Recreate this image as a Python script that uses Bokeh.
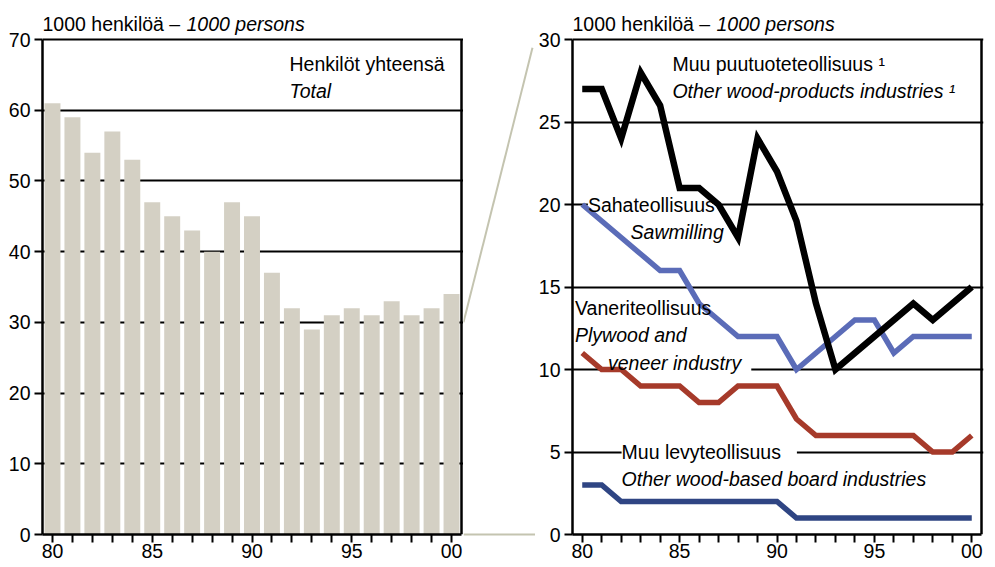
from bokeh.plotting import figure
from bokeh.models import Range1d, FixedTicker
from bokeh.layouts import row
from bokeh.embed import file_html
from bokeh.resources import INLINE
from bokeh.core.properties import value

FONT = "Liberation Sans"
FS = "19.5px"

# ---------------- data ----------------
years = list(range(1980, 2001))
total = [61, 59, 54, 57, 53, 47, 45, 43, 40, 47, 45, 37, 32, 29, 31, 32, 31, 33, 31, 32, 34]
other_wood = [27, 27, 24, 28, 26, 21, 21, 20, 18, 24, 22, 19, 14, 10, 11, 12, 13, 14, 13, 14, 15]
sawmilling = [20, 19, 18, 17, 16, 16, 14, 13, 12, 12, 12, 10, 11, 12, 13, 13, 11, 12, 12, 12, 12]
plywood = [11, 10, 10, 9, 9, 9, 8, 8, 9, 9, 9, 7, 6, 6, 6, 6, 6, 6, 5, 5, 6]
board = [3, 3, 2, 2, 2, 2, 2, 2, 2, 2, 2, 1, 1, 1, 1, 1, 1, 1, 1, 1, 1]

label_years = [1980, 1985, 1990, 1995, 2000]
label_texts = ["80", "85", "90", "95", "00"]
left_ticks = [0, 10, 20, 30, 40, 50, 60, 70]
right_ticks = [0, 5, 10, 15, 20, 25, 30]
zoom_level = 30  # left-panel level connected to the right panel

unit_fi = "1000 henkilöä – "
unit_en = "1000 persons"

BAR = "#d4d0c4"
C_OTHER = "#000000"
C_SAW = "#5b6cb8"
C_PLY = "#a63a2a"
C_BOARD = "#2f4583"
C_LINK = "#c4c4b0"

X0, X1 = 1979.5, 2000.5
PLOT_PX = 495      # pixel height of the 0..max data area
EXTRA_PX = 27      # room above the box for the unit text
EDGE_PX = 2        # room right of the box so its border is not clipped
TOP, BOTTOM = 12, 33
TEXT_UP_PX = 8.5   # baseline correction for text glyphs


def up(ymax):
    return TEXT_UP_PX * ymax / PLOT_PX


def make_panel(frame_w, ymax, yticks, border_left, border_right):
    ytop = ymax * (1 + EXTRA_PX / PLOT_PX)
    xr = X1 + EDGE_PX * (X1 - X0) / frame_w
    p = figure(title=None, frame_width=frame_w + EDGE_PX, frame_height=PLOT_PX + EXTRA_PX,
               x_range=Range1d(X0, xr), y_range=Range1d(0, ytop),
               output_backend="svg", toolbar_location=None,
               min_border_left=border_left, min_border_right=border_right,
               min_border_top=TOP, min_border_bottom=BOTTOM)
    p.background_fill_color = "white"
    p.border_fill_color = "white"
    p.outline_line_color = None
    p.xgrid.visible = False
    p.ygrid.ticker = FixedTicker(ticks=yticks)
    p.ygrid.grid_line_color = "black"
    p.ygrid.grid_line_width = 2
    for ax in (p.xaxis[0], p.yaxis[0]):
        ax.axis_line_color = "black"
        ax.axis_line_width = 2.5
        ax.major_tick_line_color = "black"
        ax.major_tick_line_width = 2
        ax.major_tick_in = 0
        ax.minor_tick_line_color = None
        ax.major_label_text_font = FONT
        ax.major_label_text_font_size = FS
        ax.major_label_text_color = "black"
    p.xaxis.ticker = FixedTicker(ticks=years)
    p.xaxis.bounds = (X0, X1)
    overrides = {y: "" for y in years}
    for y, t in zip(label_years, label_texts):
        overrides[y] = t
    p.xaxis.major_label_overrides = overrides
    p.xaxis.major_tick_out = 8
    p.xaxis.major_label_standoff = 1
    p.yaxis.ticker = FixedTicker(ticks=yticks)
    p.yaxis.bounds = (0, ymax)
    p.yaxis.major_tick_out = 8
    p.yaxis.major_label_standoff = 4
    # right border of the box
    p.segment(x0=[X1], y0=[0], x1=[X1], y1=[ymax], line_color="black", line_width=2.5)
    # unit text above the box
    yt = ymax + 7.3 * ymax / PLOT_PX + up(ymax)
    p.text(x=[X0], y=[yt], text=[unit_fi], text_font=value(FONT), text_font_size=value(FS),
           text_baseline="alphabetic", text_color="black")
    p.text(x=[X0], y=[yt], x_offset=144, text=[unit_en], text_font=value(FONT),
           text_font_size=value(FS), text_font_style="italic", text_baseline="alphabetic",
           text_color="black")
    return p


# ---------------- left panel ----------------
left = make_panel(419, 70, left_ticks, 42, 0)
left.vbar(x=years, top=total, width=0.8, fill_color=BAR, line_color=None)
left.text(x=[1991.88], y=[65.38 + up(70)], text=["Henkilöt yhteensä"], text_font=value(FONT),
          text_font_size=value(FS), text_baseline="alphabetic", text_color="black")
left.text(x=[1991.88], y=[61.48 + up(70)], text=["Total"], text_font=value(FONT),
          text_font_size=value(FS), text_font_style="italic", text_baseline="alphabetic",
          text_color="black")

# ---------------- connector ----------------
MID_W = 72
PAD = 12
RMAX = 30
mid = figure(title=None, frame_width=MID_W, frame_height=PLOT_PX + EXTRA_PX + PAD,
             x_range=Range1d(0, MID_W),
             y_range=Range1d(-PAD * RMAX / PLOT_PX, RMAX * (1 + EXTRA_PX / PLOT_PX)),
             output_backend="svg", toolbar_location=None, x_axis_type=None, y_axis_type=None,
             min_border_left=0, min_border_right=0, min_border_top=TOP,
             min_border_bottom=BOTTOM - PAD)
mid.outline_line_color = None
mid.grid.visible = False
mid.border_fill_color = "white"
mid.line(x=[0, MID_W - 3], y=[zoom_level * RMAX / 70, RMAX - 0.5], line_color=C_LINK, line_width=2)
mid.line(x=[0, MID_W], y=[0, 0], line_color=C_LINK, line_width=2)

# ---------------- right panel ----------------
right = make_panel(409, RMAX, right_ticks, 34, 6)
dy = up(RMAX)

# white boxes behind some labels (under the data lines)
bg_labels = [
    (1980.29, 19.44, "Sahateollisuus", "normal", (1, 2)),
    (1981.32, 9.90, "veneer industry", "italic", (5, 2)),
    (1982.02, 4.48, "Muu levyteollisuus", "normal", (8, 2)),
]
for bx, by, bt, bs, pad in bg_labels:
    right.text(x=[bx], y=[by + dy], text=[bt], text_font=value(FONT), text_font_size=value(FS),
               text_font_style=bs, text_baseline="alphabetic", text_alpha=0,
               background_fill_color="white", padding=pad)

right.line(years, board, line_color=C_BOARD, line_width=5.5, line_join="miter")
right.line(years, plywood, line_color=C_PLY, line_width=5.5, line_join="miter")
right.line(years, sawmilling, line_color=C_SAW, line_width=5.5, line_join="miter")
right.line(years, other_wood, line_color=C_OTHER, line_width=6.5, line_join="miter")

normal_labels = [
    (1984.63, 28.02, "Muu puutuoteteollisuus ¹"),
    (1980.29, 19.44, "Sahateollisuus"),
    (1979.63, 13.21, "Vaneriteollisuus"),
    (1982.02, 4.48, "Muu levyteollisuus"),
]
italic_labels = [
    (1984.63, 26.35, "Other wood-products industries ¹"),
    (1982.48, 17.82, "Sawmilling"),
    (1979.63, 11.56, "Plywood and"),
    (1981.32, 9.90, "veneer industry"),
    (1982.02, 2.83, "Other wood-based board industries"),
]
right.text(x=[a[0] for a in normal_labels], y=[a[1] + dy for a in normal_labels],
           text=[a[2] for a in normal_labels], text_font=value(FONT), text_font_size=value(FS),
           text_baseline="alphabetic", text_color="black")
right.text(x=[a[0] for a in italic_labels], y=[a[1] + dy for a in italic_labels],
           text=[a[2] for a in italic_labels], text_font=value(FONT), text_font_size=value(FS),
           text_font_style="italic", text_baseline="alphabetic", text_color="black")

layout = row(left, mid, right)
open("out.html", "w").write(file_html(layout, INLINE))
